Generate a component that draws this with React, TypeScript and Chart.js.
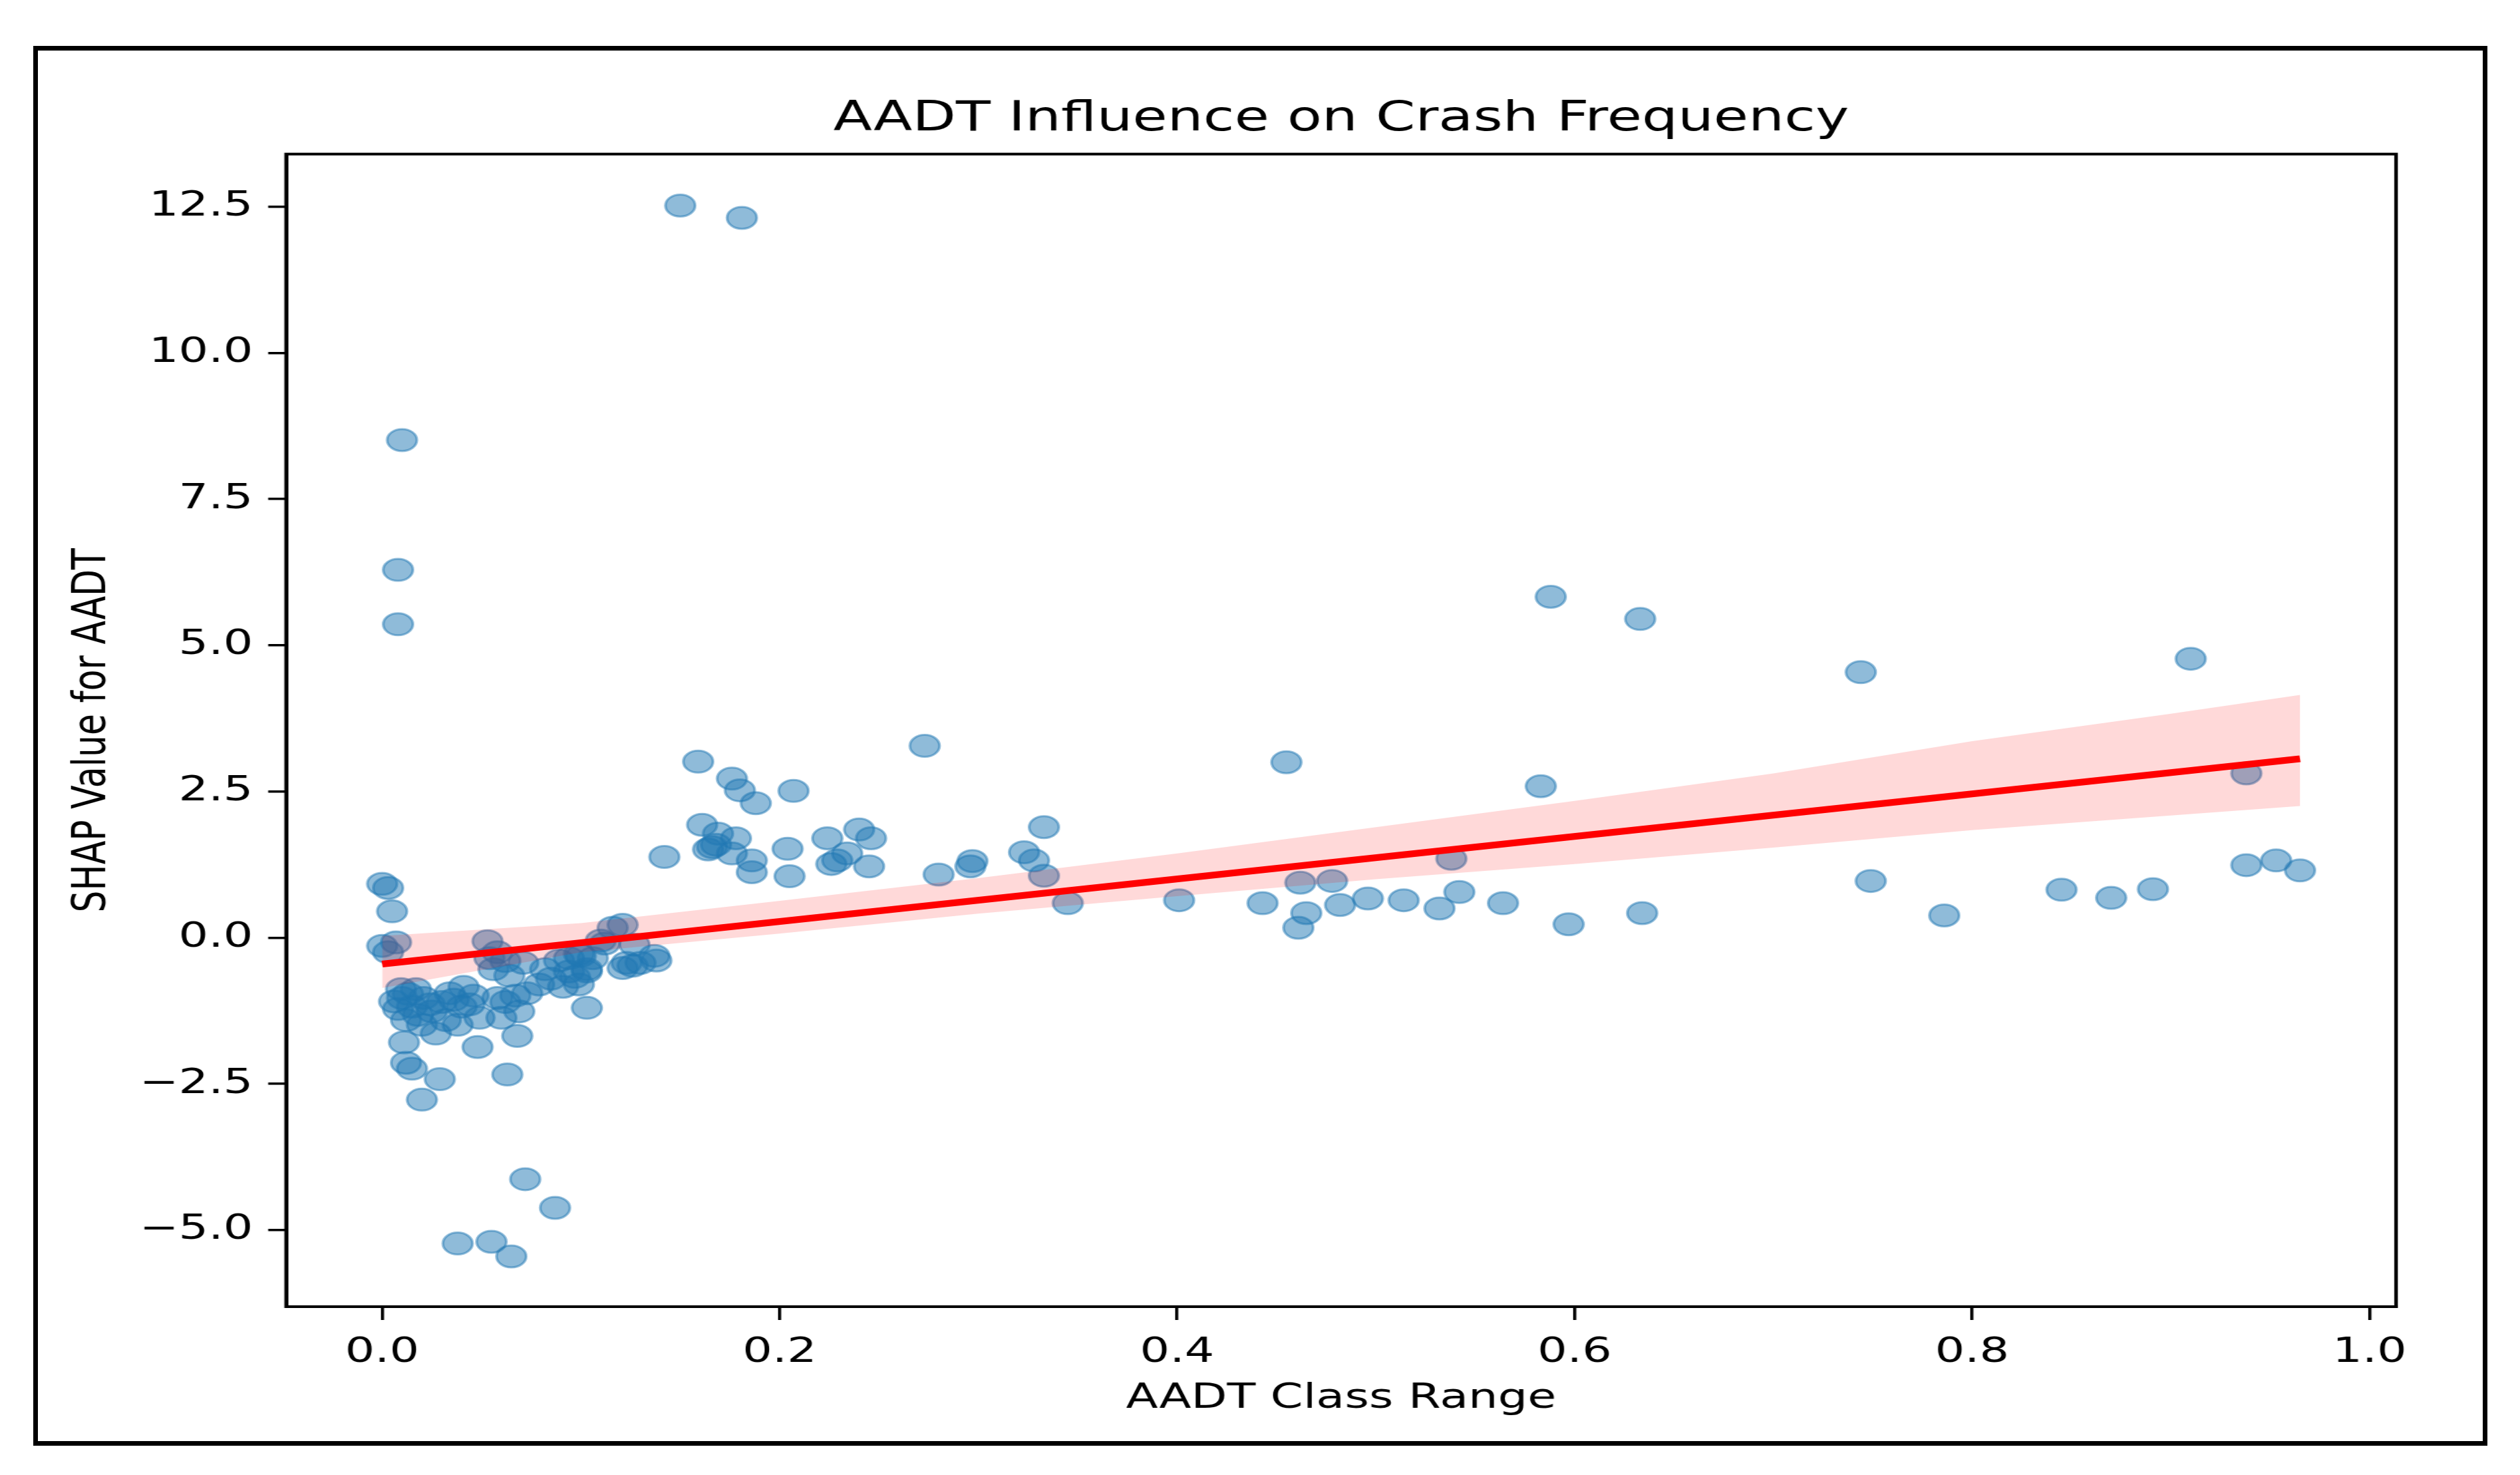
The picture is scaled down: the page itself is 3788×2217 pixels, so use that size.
import { useEffect, useRef } from 'react'
import { Chart, registerables } from 'chart.js'
Chart.register(...registerables)

// the source picture is stretched sideways, so the chart is drawn narrow and widened with CSS
const STRETCH = 1.35
const PAGE_W = 3788
const PAGE_H = 2217
const CANVAS_W = PAGE_W / STRETCH

// AADT class range (x) and SHAP value (y)
const aadtX = [
    0.000, 0.003, 0.005, 0.000, 0.007, 0.003, 0.010, 0.008, 0.008,
    0.0095, 0.017, 0.010, 0.021, 0.030, 0.034, 0.041, 0.046, 0.040, 0.015, 0.008, 0.025, 0.012,
    0.020, 0.032, 0.038, 0.049, 0.027, 0.011, 0.048, 0.012, 0.015, 0.029, 0.020, 0.063, 0.068,
    0.013, 0.024, 0.036, 0.044, 0.018, 0.006,
    0.053, 0.054, 0.056, 0.058, 0.060, 0.062, 0.067, 0.069, 0.073, 0.079, 0.082, 0.071, 0.089,
    0.094, 0.094, 0.099, 0.100, 0.103, 0.103, 0.106, 0.064, 0.085, 0.091, 0.097, 0.058, 0.062,
    0.121, 0.116, 0.112, 0.110, 0.127, 0.137, 0.123, 0.138, 0.126, 0.121, 0.130, 0.099, 0.103,
    0.087, 0.072, 0.038, 0.055, 0.065,
    0.150, 0.181,
    0.142, 0.159, 0.176, 0.180, 0.188, 0.207, 0.273, 0.161, 0.169, 0.178, 0.166, 0.164, 0.168,
    0.176, 0.186, 0.186, 0.204, 0.205, 0.224, 0.240, 0.246, 0.229, 0.234, 0.245, 0.226, 0.280,
    0.297, 0.296, 0.333, 0.323, 0.328, 0.333, 0.345,
    0.401, 0.443, 0.455, 0.461, 0.462, 0.465, 0.478, 0.482, 0.496, 0.514, 0.532, 0.538, 0.542,
    0.564, 0.583, 0.588, 0.597, 0.633, 0.634, 0.744, 0.749, 0.786, 0.845, 0.870, 0.891, 0.910,
    0.938, 0.938, 0.953, 0.965,
]
const shapY = [
    0.92, 0.85, 0.45, -0.14, -0.08, -0.25, 8.51, 6.29, 5.36,
    -0.88, -0.88, -1.03, -1.03, -1.10, -0.95, -0.84, -0.99, -1.18, -1.18, -1.22, -1.26, -1.41,
    -1.49, -1.41, -1.49, -1.37, -1.64, -1.79, -1.87, -2.14, -2.24, -2.42, -2.77, -2.34, -1.68,
    -0.96, -1.14, -1.06, -1.14, -1.32, -1.09,
    -0.06, -0.35, -0.54, -1.03, -1.37, -1.10, -0.99, -1.26, -0.95, -0.80, -0.54, -0.43, -0.39,
    -0.58, -0.35, -0.80, -0.31, -0.58, -1.20, -0.35, -0.65, -0.70, -0.84, -0.67, -0.25, -0.40,
    0.22, 0.17, -0.10, -0.05, -0.12, -0.31, -0.43, -0.39, -0.48, -0.52, -0.43, -0.28, -0.54,
    -4.62, -4.13, -5.23, -5.20, -5.45,
    12.52, 12.31,
    1.38, 3.01, 2.72, 2.52, 2.30, 2.51, 3.28, 1.93, 1.78, 1.70, 1.55, 1.51, 1.59,
    1.44, 1.32, 1.12, 1.52, 1.05, 1.70, 1.85, 1.70, 1.32, 1.44, 1.22, 1.26, 1.08,
    1.31, 1.22, 1.89, 1.46, 1.32, 1.06, 0.59,
    0.64, 0.59, 3.00, 0.17, 0.94, 0.42, 0.97, 0.56, 0.67, 0.64, 0.50, 1.35, 0.78,
    0.59, 2.59, 5.83, 0.23, 5.45, 0.42, 4.54, 0.97, 0.38, 0.82, 0.68, 0.83, 4.77,
    2.81, 1.24, 1.32, 1.15,
]

// regression line ends and its confidence band
const fitX = [0, 0.965]
const fitY = [-0.45, 3.06]
const bandX = [0, 0.1, 0.2, 0.3, 0.4, 0.5, 0.6, 0.7, 0.8, 0.9, 0.965]
const bandUpper = [0.03, 0.25, 0.63, 1.02, 1.44, 1.89, 2.34, 2.81, 3.36, 3.83, 4.15]
const bandLower = [-0.86, -0.25, 0.07, 0.41, 0.71, 1.00, 1.26, 1.54, 1.84, 2.09, 2.25]

const xTicks = [0, 0.2, 0.4, 0.6, 0.8, 1.0]
const yTicks = [-5, -2.5, 0, 2.5, 5, 7.5, 10, 12.5]

const FONT = 'DejaVu Sans'

function tickLabel(v: number | string): string {
    const n = Number(v)
    const s = Math.abs(n).toFixed(1)
    return n < 0 ? '\u2212' + s : s
}

const boxPlugin = {
    id: 'axesBox',
    afterDraw(chart: Chart) {
        const { ctx, chartArea: a } = chart
        ctx.save()
        ctx.strokeStyle = '#000'
        ctx.lineWidth = 4
        ctx.strokeRect(a.left, a.top, a.right - a.left, a.bottom - a.top)
        ctx.restore()
    }
}

export default function App() {
    const canvasRef = useRef<HTMLCanvasElement>(null)
    const chartRef = useRef<Chart | null>(null)

    useEffect(() => {
        document.body.style.margin = '0'
        document.body.style.overflow = 'hidden'
        if (!canvasRef.current) return
        const ctx = canvasRef.current.getContext('2d')!

        chartRef.current?.destroy()
        chartRef.current = new Chart(ctx, {
            type: 'scatter',
            plugins: [boxPlugin],
            data: {
                datasets: [
                    {
                        type: 'line',
                        label: 'fit',
                        data: fitX.map((x, i) => ({ x, y: fitY[i] })),
                        borderColor: '#ff0000', borderWidth: 10,
                        pointRadius: 0, fill: false, order: 0,
                    },
                    {
                        type: 'line',
                        label: 'ci low',
                        data: bandX.map((x, i) => ({ x, y: bandLower[i] })),
                        borderWidth: 0, pointRadius: 0, fill: false, order: 1,
                    },
                    {
                        type: 'line',
                        label: 'ci high',
                        data: bandX.map((x, i) => ({ x, y: bandUpper[i] })),
                        borderWidth: 0, pointRadius: 0,
                        fill: '-1', backgroundColor: 'rgba(255,0,0,0.15)', order: 1,
                    },
                    {
                        label: 'SHAP',
                        data: aadtX.map((x, i) => ({ x, y: shapY[i] })),
                        backgroundColor: 'rgba(31,119,180,0.5)',
                        borderColor: 'rgba(31,119,180,0.5)',
                        borderWidth: 3, pointRadius: 16.5, order: 2,
                    },
                ],
            },
            options: {
                animation: false,
                responsive: true,
                maintainAspectRatio: false,
                layout: { padding: { left: 0, right: 139, top: 0, bottom: 0 } },
                font: { family: FONT },
                plugins: {
                    legend: { display: false },
                    tooltip: { enabled: false },
                    title: {
                        display: true,
                        text: 'AADT Influence on Crash Frequency',
                        color: '#000',
                        fullSize: false,
                        font: { family: FONT, size: 63, weight: 'normal' },
                        padding: { top: 142, bottom: 14 },
                    },
                },
                scales: {
                    x: {
                        type: 'linear',
                        min: -0.0483, max: 1.0133,
                        afterBuildTicks: (s: any) => { s.ticks = xTicks.map(value => ({ value })) },
                        afterFit: (s: any) => { s.height = 253 },
                        grid: { drawOnChartArea: false, drawTicks: true, tickLength: 20, color: '#000', lineWidth: 3.5 },
                        border: { display: true, color: '#000', width: 4 },
                        ticks: {
                            color: '#000', padding: 18, autoSkip: false, maxRotation: 0,
                            font: { family: FONT, size: 52 },
                            callback: v => tickLabel(v),
                        },
                        title: {
                            display: true, text: 'AADT Class Range', color: '#000',
                            font: { family: FONT, size: 52 },
                            padding: { top: 0, bottom: 83 },
                        },
                    },
                    y: {
                        type: 'linear',
                        min: -6.31, max: 13.40,
                        afterBuildTicks: (s: any) => { s.ticks = yTicks.map(value => ({ value })) },
                        afterFit: (s: any) => { s.width = 318.5 },
                        grid: { drawOnChartArea: false, drawTicks: true, tickLength: 20, color: '#000', lineWidth: 3.5 },
                        border: { display: true, color: '#000', width: 4 },
                        ticks: {
                            color: '#000', padding: 17, autoSkip: false,
                            font: { family: FONT, size: 52 },
                            callback: v => tickLabel(v),
                        },
                        title: {
                            display: true, text: 'SHAP Value for AADT', color: '#000',
                            font: { family: FONT, size: 52 },
                            padding: { top: 72, bottom: 0 },
                        },
                    },
                },
            },
        })
        return () => chartRef.current?.destroy()
    }, [])

    return (
        <div style={{ position: 'relative', width: PAGE_W, height: PAGE_H, background: 'white', overflow: 'hidden' }}>
            <div style={{
                position: 'absolute', left: 0, top: 0, width: CANVAS_W, height: PAGE_H,
                transform: `scaleX(${STRETCH})`, transformOrigin: '0 0',
            }}>
                <canvas ref={canvasRef} />
            </div>
            <div style={{
                position: 'absolute', left: 50, top: 69, width: 3689, height: 2104,
                border: '7px solid #000', boxSizing: 'border-box', pointerEvents: 'none',
            }} />
        </div>
    )
}
